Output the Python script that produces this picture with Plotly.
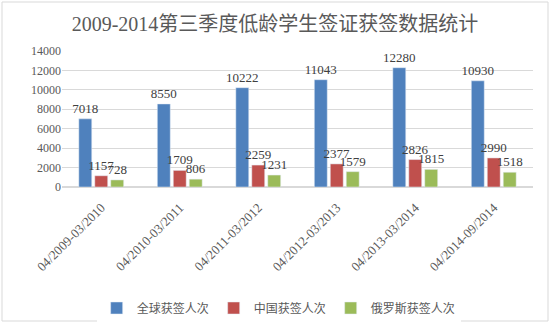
import plotly.graph_objects as go

categories = ["04/2009-03/2010", "04/2010-03/2011", "04/2011-03/2012",
              "04/2012-03/2013", "04/2013-03/2014", "04/2014-09/2014"]
global_visas = [7018, 8550, 10222, 11043, 12280, 10930]
china_visas = [1157, 1709, 2259, 2377, 2826, 2990]
russia_visas = [728, 806, 1231, 1579, 1815, 1518]
series_names = ["全球获签人次", "中国获签人次", "俄罗斯获签人次"]
colors = ["#4F81BD", "#C0504D", "#9BBB59"]

FONT = "Liberation Serif, Noto Sans CJK SC, serif"
CJK = "Noto Sans CJK SC, sans-serif"

fig = go.Figure()
for name, vals, c in zip(series_names, [global_visas, china_visas, russia_visas], colors):
    fig.add_trace(go.Bar(
        x=categories, y=vals, name=name, marker_color=c,
        text=[str(v) for v in vals], textposition="outside",
        textfont=dict(family=FONT, size=13, color="#404040"),
        constraintext="none", cliponaxis=False,
    ))

W, H = 550, 323
l, r, t, b = 62, 17, 51, 136
pw, ph = W - l - r, H - t - b

fig.update_layout(
    width=W, height=H,
    margin=dict(l=l, r=r, t=t, b=b, autoexpand=False),
    paper_bgcolor="white", plot_bgcolor="white",
    barmode="group", bargap=0.39, bargroupgap=0.19,
    title=dict(text="2009-2014第三季度低龄学生签证获签数据统计",
               x=0.5, xref="container", xanchor="center",
               y=1 - 24 / H, yanchor="middle",
               font=dict(family=FONT, size=20, color="#595959")),
    yaxis=dict(range=[0, 14000], dtick=2000, tickformat="d", showgrid=True,
               gridcolor="#D9D9D9", gridwidth=1, zeroline=True,
               zerolinecolor="#D9D9D9", automargin=False,
               tickfont=dict(family=FONT, size=12, color="#595959"),
               ticks="", showline=False),
    xaxis=dict(tickangle=-45, tickfont=dict(family=FONT, size=13, color="#595959"),
               showline=True, linecolor="#D9D9D9", ticks="", automargin=False,
               ticklabelstandoff=7),
    legend=dict(orientation="h", x=0.46, xanchor="center", y=(t + ph - 308) / ph,
                yanchor="middle", font=dict(family=CJK, size=12, color="#595959"),
                itemwidth=30, traceorder="normal"),
    showlegend=True,
    shapes=[dict(type="rect", xref="paper", yref="paper",
                 x0=(2 - l) / pw, x1=(548 - l) / pw,
                 y0=(t + ph - 321) / ph, y1=(t + ph - 2) / ph,
                 line=dict(color="#D9D9D9", width=1), layer="below")],
)

fig.write_html("out.html")
